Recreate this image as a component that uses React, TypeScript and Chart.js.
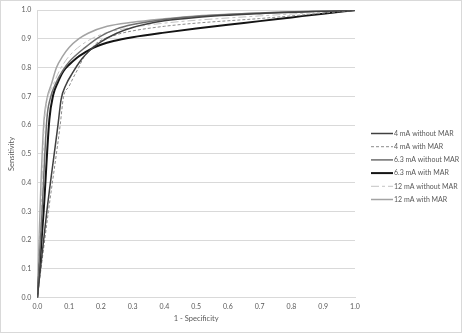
import React, { useEffect, useRef } from "react";
import { Chart, registerables } from "chart.js";

Chart.register(...registerables);

// ROC curves: [1 - specificity, sensitivity]
const roc4mANoMar: [number, number][] = [
  [0, 0], [0.03, 0.3], [0.065, 0.6], [0.075, 0.69], [0.09, 0.74], [0.11, 0.78], [0.14, 0.83],
  [0.17, 0.865], [0.2, 0.89], [0.25, 0.92], [0.3, 0.94], [0.4, 0.963], [0.5, 0.975], [0.7, 0.988], [1, 1],
];
const roc4mAMar: [number, number][] = [
  [0, 0], [0.035, 0.3], [0.072, 0.6], [0.082, 0.695], [0.1, 0.735], [0.113, 0.765], [0.13, 0.8],
  [0.145, 0.834], [0.165, 0.86], [0.187, 0.886], [0.25, 0.915], [0.3, 0.928], [0.4, 0.944],
  [0.5, 0.955], [0.7, 0.971], [0.9, 0.99], [1, 1],
];
const roc63mANoMar: [number, number][] = [
  [0, 0], [0.015, 0.3], [0.03, 0.62], [0.04, 0.69], [0.06, 0.75], [0.08, 0.79], [0.1, 0.82],
  [0.15, 0.87], [0.2, 0.91], [0.25, 0.935], [0.3, 0.95], [0.4, 0.968], [0.5, 0.978], [0.7, 0.99], [1, 1],
];
const roc63mAMar: [number, number][] = [
  [0, 0], [0.02, 0.3], [0.038, 0.62], [0.05, 0.705], [0.065, 0.75], [0.082, 0.788], [0.1, 0.81],
  [0.124, 0.834], [0.15, 0.853], [0.176, 0.869], [0.2, 0.88], [0.24, 0.893], [0.3, 0.906],
  [0.4, 0.922], [0.5, 0.936], [0.6, 0.949], [0.7, 0.962], [0.8, 0.975], [0.9, 0.988], [1, 1],
];
const roc12mANoMar: [number, number][] = [
  [0, 0], [0.012, 0.3], [0.022, 0.6], [0.03, 0.68], [0.05, 0.74], [0.07, 0.79], [0.1, 0.84],
  [0.14, 0.88], [0.2, 0.915], [0.3, 0.94], [0.4, 0.955], [0.5, 0.965], [0.7, 0.98], [1, 1],
];
const roc12mAMar: [number, number][] = [
  [0, 0], [0.01, 0.35], [0.02, 0.6], [0.03, 0.69], [0.045, 0.745], [0.06, 0.8], [0.08, 0.84],
  [0.1, 0.87], [0.13, 0.9], [0.16, 0.92], [0.22, 0.944], [0.3, 0.958], [0.4, 0.97], [0.5, 0.98],
  [0.6, 0.986], [0.8, 0.994], [1, 1],
];

const seriesLabels = [
  "4 mA without MAR",
  "4 mA with MAR",
  "6.3 mA without MAR",
  "6.3 mA with MAR",
  "12 mA without MAR",
  "12 mA with MAR",
];
const seriesData = [roc4mANoMar, roc4mAMar, roc63mANoMar, roc63mAMar, roc12mANoMar, roc12mAMar];
const seriesColors = ["#404040", "#8c8c8c", "#6e6e6e", "#141414", "#c4c4c4", "#a3a3a3"];
const seriesWidths = [1.5, 1, 1.5, 2, 1, 1.5];
const seriesDashes: number[][] = [[], [3, 2], [], [], [8, 3, 3, 3], []];

const xTitle = "1 - Specificity";
const yTitle = "Sensitivity";

const FONT = "Lato, 'Open Sans', sans-serif";
const TEXT = "#595959";

const legendPlugin = {
  id: "customLegend",
  afterDraw(chart: any) {
    const ctx = chart.ctx;
    ctx.save();
    chart.data.datasets.forEach((ds: any, i: number) => {
      const y = 133.5 + i * 13.2;
      ctx.beginPath();
      ctx.strokeStyle = ds.borderColor;
      ctx.lineWidth = ds.borderWidth;
      ctx.setLineDash(ds.borderDash || []);
      ctx.moveTo(371, y);
      ctx.lineTo(393, y);
      ctx.stroke();
      ctx.setLineDash([]);
      ctx.fillStyle = TEXT;
      ctx.font = `7px ${FONT}`;
      ctx.textBaseline = "middle";
      ctx.textAlign = "left";
      ctx.fillText(ds.label, 394, y);
    });
    ctx.restore();
  },
};

const borderPlugin = {
  id: "outerBorder",
  afterDraw(chart: any) {
    const ctx = chart.ctx;
    ctx.save();
    ctx.strokeStyle = "#d9d9d9";
    ctx.lineWidth = 1;
    ctx.strokeRect(0.5, 0.5, chart.width - 1, chart.height - 1);
    ctx.restore();
  },
};

export default function App() {
  const ref = useRef<HTMLCanvasElement>(null);
  useEffect(() => {
    const prevMargin = document.body.style.margin;
    document.body.style.margin = "0";
    const chart = new Chart(ref.current!, {
      type: "line",
      data: {
        datasets: seriesLabels.map((label, i) => ({
          label,
          data: seriesData[i].map(([x, y]) => ({ x, y })),
          borderColor: seriesColors[i],
          backgroundColor: seriesColors[i],
          borderWidth: seriesWidths[i],
          borderDash: seriesDashes[i],
          pointRadius: 0,
          fill: false,
          cubicInterpolationMode: "monotone" as const,
        })),
      },
      options: {
        animation: false,
        responsive: false,
        devicePixelRatio: 1,
        layout: { padding: { top: 9, right: 107, left: 0, bottom: 0 } },
        plugins: { legend: { display: false }, tooltip: { enabled: false } },
        scales: {
          x: {
            type: "linear",
            min: 0,
            max: 1,
            ticks: {
              stepSize: 0.1,
              callback: (v: any) => Number(v).toFixed(1),
              font: { family: FONT, size: 7 },
              color: TEXT,
              padding: 5,
              maxRotation: 0,
            },
            grid: { display: false, drawTicks: false },
            border: { display: true, color: "#d9d9d9" },
            title: {
              display: true,
              text: xTitle,
              font: { family: FONT, size: 7.5 },
              color: TEXT,
              padding: { top: 0, bottom: 10 },
            },
            afterFit: (s: any) => {
              s.height = 35.3;
            },
          },
          y: {
            type: "linear",
            min: 0,
            max: 1,
            ticks: {
              stepSize: 0.1,
              callback: (v: any) => Number(v).toFixed(1),
              font: { family: FONT, size: 7 },
              color: TEXT,
              padding: 6,
            },
            grid: { color: "#d9d9d9", drawTicks: false },
            border: { display: true, color: "#d9d9d9" },
            title: {
              display: true,
              text: yTitle,
              font: { family: FONT, size: 7.5 },
              color: TEXT,
              padding: { top: 7, bottom: 0 },
            },
            afterFit: (s: any) => {
              s.width = 37.3;
            },
          },
        },
      },
      plugins: [legendPlugin, borderPlugin],
    });
    return () => {
      chart.destroy();
      document.body.style.margin = prevMargin;
    };
  }, []);
  return (
    <div style={{ width: 462, height: 333, background: "#fff" }}>
      <canvas ref={ref} width={462} height={333} style={{ display: "block" }} />
    </div>
  );
}
